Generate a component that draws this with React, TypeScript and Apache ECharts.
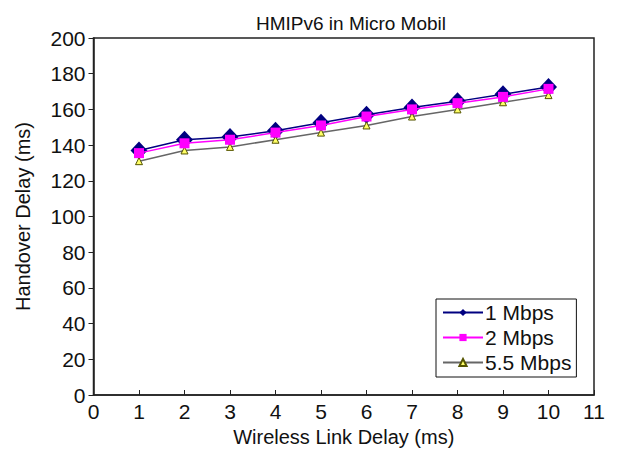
import React, { useEffect, useRef } from "react";
import * as echarts from "echarts";

const xValues = [1, 2, 3, 4, 5, 6, 7, 8, 9, 10];
const mbps1 = [137, 143, 144.5, 148, 152.5, 157, 161, 164.5, 168.5, 172.5];
const mbps2 = [135.5, 141, 143, 147, 151, 156, 160, 163.5, 167, 171.5];
const mbps55 = [131, 137, 139, 143, 147, 151, 156, 160, 164, 168];
const seriesNames = ["1 Mbps", "2 Mbps", "5.5 Mbps"];

const font = "Liberation Sans, Arial, sans-serif";

export default function App() {
  const ref = useRef<HTMLDivElement>(null);
  useEffect(() => {
    if (!ref.current) return;
    const chart = echarts.init(ref.current, null, { renderer: "svg" });
    const pair = (arr: number[]) => xValues.map((x, i) => [x, arr[i]]);
    chart.setOption({
      animation: false,
      backgroundColor: "#ffffff",
      textStyle: { fontFamily: font },
      title: {
        text: "HMIPv6 in Micro Mobil",
        left: 346,
        top: 9,
        textAlign: "center",
        textStyle: { fontFamily: font, fontSize: 19, fontWeight: "normal", color: "#111" },
      },
      grid: { left: 93.5, right: 24, top: 38, bottom: 61, show: true, borderColor: "#222", borderWidth: 1.5, backgroundColor: "transparent" },
      legend: {
        orient: "vertical",
        left: 436,
        top: 299,
        width: 142,
        padding: [3, 5, 4, 6],
        itemGap: 4,
        itemWidth: 40,
        itemHeight: 9,
        borderColor: "#111",
        borderWidth: 1,
        backgroundColor: "#fff",
        data: seriesNames,
        textStyle: { fontFamily: font, fontSize: 21, color: "#111", padding: [0, 0, 0, -3] },
      },
      xAxis: {
        type: "value",
        min: 0,
        max: 11,
        interval: 1,
        name: "Wireless Link Delay (ms)",
        nameLocation: "middle",
        nameGap: 29,
        nameTextStyle: { fontFamily: font, fontSize: 20, color: "#111" },
        axisLine: { show: true, lineStyle: { color: "#222", width: 1.5 } },
        axisTick: { show: true, inside: true, length: 5, lineStyle: { color: "#222" } },
        axisLabel: { fontFamily: font, fontSize: 21, color: "#111", margin: 6 },
        splitLine: { show: false },
      },
      yAxis: {
        type: "value",
        min: 0,
        max: 200,
        interval: 20,
        name: "Handover Delay (ms)",
        nameLocation: "middle",
        nameGap: 61,
        nameTextStyle: { fontFamily: font, fontSize: 20, color: "#111" },
        axisLine: { show: true, lineStyle: { color: "#222", width: 1.5 } },
        axisTick: { show: true, inside: false, length: 5, lineStyle: { color: "#222" } },
        axisLabel: { fontFamily: font, fontSize: 21, color: "#111", margin: 8 },
        splitLine: { show: false },
      },
      series: [
        {
          name: seriesNames[0],
          type: "line",
          data: pair(mbps1),
          symbol: "diamond",
          symbolSize: [17, 18],
          lineStyle: { color: "#000080", width: 1.5 },
          itemStyle: { color: "#000080", borderWidth: 0 },
          z: 2,
        },
        {
          name: seriesNames[1],
          type: "line",
          data: pair(mbps2),
          symbol: "rect",
          symbolSize: 10,
          lineStyle: { color: "#ff00ff", width: 1.5 },
          itemStyle: { color: "#ff00ff", borderWidth: 0 },
          z: 4,
        },
        {
          name: seriesNames[2],
          type: "line",
          data: pair(mbps55),
          symbol: "triangle",
          symbolSize: 7,
          lineStyle: { color: "#666666", width: 1.5 },
          itemStyle: { color: "#ffff66", borderColor: "#555500", borderWidth: 1 },
          z: 3,
        },
      ],
    });
    return () => chart.dispose();
  }, []);
  return <div ref={ref} style={{ width: 618, height: 456, margin: -8 }} />;
}
